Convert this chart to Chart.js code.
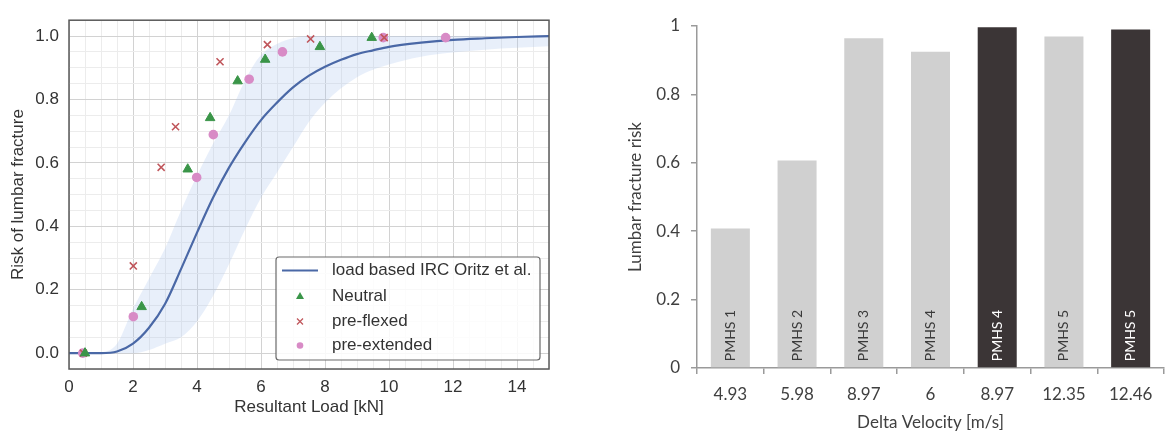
<!DOCTYPE html>
<html>
<head>
<meta charset="utf-8">
<script src="https://cdn.jsdelivr.net/npm/chart.js@4/dist/chart.umd.min.js"></script>
<style>
  html,body{margin:0;padding:0;background:#fff;width:1165px;height:435px;overflow:hidden;}
  #wl{position:absolute;left:0;top:0;width:575px;height:435px;}
  #wr{position:absolute;left:575px;top:0;width:590px;height:435px;}
</style>
</head>
<body>
<div id="wl"><canvas id="cl" width="575" height="435"></canvas></div>
<div id="wr"><canvas id="cr" width="590" height="435"></canvas></div>
<script>
// ---------- Left chart data ----------
const curveX = [0,0.5,1,1.5,2,2.5,3,3.5,4,4.5,5,5.5,6,6.5,7,7.5,8,8.5,9,9.5,10,11,12,13,14,15];
const curveY = [0,0,0,0.005,0.03,0.08,0.155,0.265,0.38,0.49,0.585,0.665,0.735,0.79,0.838,0.875,0.903,0.925,0.943,0.955,0.966,0.979,0.988,0.993,0.997,1.0];
const bandX     = [0,0.5,1,1.5,2,2.5,3,3.5,4,4.5,5,5.5,6,6.5,7,7.5,8,9,10,11,12,13,14,15];
const bandUpper = [0,0,0.003,0.03,0.14,0.235,0.33,0.45,0.56,0.66,0.75,0.86,0.94,0.975,0.993,1.0,1.0,1.0,1.0,1.0,1.0,1.0,1.0,1.0];
const bandLower = [0,0,0,0,0,0.01,0.03,0.05,0.1,0.18,0.28,0.39,0.49,0.57,0.65,0.73,0.79,0.87,0.91,0.935,0.948,0.957,0.963,0.968];
const neutralX = [0.5,2.27,3.71,4.41,5.27,6.13,7.84,9.46];
const neutralY = [0,0.146,0.58,0.742,0.858,0.926,0.966,0.995];
const flexedX  = [0.45,2.01,2.88,3.33,4.72,6.2,7.55,9.85];
const flexedY  = [0,0.275,0.586,0.714,0.919,0.973,0.991,0.995];
const extendedX = [0.43,2.01,3.99,4.51,5.63,6.67,9.82,11.77];
const extendedY = [0,0.115,0.554,0.689,0.864,0.95,0.995,0.995];
const leftLabels = ['load based IRC Oritz et al.','Neutral','pre-flexed','pre-extended'];

// ---------- Right chart data ----------
const velocityLabels = ['4.93','5.98','8.97','6','8.97','12.35','12.46'];
const fractureRisk   = [0.408,0.607,0.964,0.925,0.996,0.969,0.99];
const specimenNames  = ['PMHS 1','PMHS 2','PMHS 3','PMHS 4','PMHS 4','PMHS 5','PMHS 5'];
const barGroup       = ['A','A','A','A','B','A','B'];

const zip = (xs, ys) => xs.map((x, i) => ({x, y: ys[i]}));

const SANS = '"Liberation Sans", Arial, sans-serif';
const CAL = 'Lato, "Open Sans", sans-serif';
const GREEN = '#3a9548', RED = '#c0575c', PINK = '#d88bc6', BLUE = '#4a68a6';

function isMult(v, s){ return Math.abs(Math.round(v/s)*s - v) < 1e-6; }

const frameLegend = {
  id: 'frameLegend',
  afterDraw(chart){
    const c = chart.ctx, a = chart.chartArea;
    c.save();
    c.strokeStyle = '#5a5a5a'; c.lineWidth = 1.5;
    c.strokeRect(a.left, a.top, a.right - a.left, a.bottom - a.top);
    const x0 = a.right - 273, y0 = a.bottom - 112, w = 264, h = 103;
    c.fillStyle = 'rgba(255,255,255,0.85)';
    c.strokeStyle = '#6a6a6a'; c.lineWidth = 1.2;
    c.beginPath();
    if (c.roundRect) c.roundRect(x0, y0, w, h, 3); else c.rect(x0, y0, w, h);
    c.fill(); c.stroke();
    const rows = [y0 + 13.5, y0 + 39, y0 + 64.5, y0 + 88.5];
    const mx = x0 + 24, tx = x0 + 56;
    c.strokeStyle = BLUE; c.lineWidth = 2;
    c.beginPath(); c.moveTo(x0 + 6, rows[0]); c.lineTo(x0 + 42, rows[0]); c.stroke();
    c.fillStyle = GREEN;
    c.beginPath(); c.moveTo(mx, rows[1]-4); c.lineTo(mx+4, rows[1]+3); c.lineTo(mx-4, rows[1]+3); c.closePath(); c.fill();
    c.strokeStyle = RED; c.lineWidth = 1.3;
    c.beginPath(); c.moveTo(mx-3, rows[2]-3); c.lineTo(mx+3, rows[2]+3); c.moveTo(mx+3, rows[2]-3); c.lineTo(mx-3, rows[2]+3); c.stroke();
    c.fillStyle = PINK;
    c.beginPath(); c.arc(mx, rows[3], 3.3, 0, Math.PI*2); c.fill();
    c.fillStyle = '#333'; c.font = '17px ' + SANS; c.textBaseline = 'middle'; c.textAlign = 'left';
    leftLabels.forEach((t, i) => c.fillText(t, tx, rows[i]));
    c.restore();
  }
};

new Chart(document.getElementById('cl'), {
  type: 'scatter',
  data: {
    datasets: [
      {label: leftLabels[1], data: zip(neutralX, neutralY), pointStyle: 'triangle', pointRadius: 5.5, backgroundColor: GREEN, borderColor: GREEN, borderWidth: 1},
      {label: leftLabels[2], data: zip(flexedX, flexedY), pointStyle: 'crossRot', pointRadius: 5, borderColor: RED, backgroundColor: RED, borderWidth: 1.6},
      {label: leftLabels[3], data: zip(extendedX, extendedY), pointStyle: 'circle', pointRadius: 4.8, backgroundColor: PINK, borderColor: PINK, borderWidth: 0},
      {label: leftLabels[0], type: 'line', data: zip(curveX, curveY), borderColor: BLUE, borderWidth: 2.2, pointRadius: 0, fill: false, cubicInterpolationMode: 'monotone'},
      {label: 'upper', type: 'line', data: zip(bandX, bandUpper), borderWidth: 0, borderColor: 'rgba(0,0,0,0)', pointRadius: 0, backgroundColor: 'rgba(170,195,235,0.27)', fill: '+1', cubicInterpolationMode: 'monotone'},
      {label: 'lower', type: 'line', data: zip(bandX, bandLower), borderWidth: 0, borderColor: 'rgba(0,0,0,0)', pointRadius: 0, fill: false, cubicInterpolationMode: 'monotone'}
    ]
  },
  options: {
    responsive: false, animation: false,
    layout: {padding: {left: 0, right: 26, top: 10, bottom: 0}},
    plugins: {legend: {display: false}, tooltip: {enabled: false}},
    scales: {
      x: {
        type: 'linear', min: 0, max: 15,
        ticks: {stepSize: 0.5, autoSkip: false, maxRotation: 0, color: '#333', font: {size: 17, family: SANS}, padding: 8,
          callback: v => isMult(v, 2) ? String(Math.round(v)) : ''},
        grid: {color: c => isMult(c.tick.value, 2) ? '#d2d2d2' : '#ececec', drawTicks: false, lineWidth: 1},
        border: {display: false},
        title: {display: true, text: 'Resultant Load [kN]', color: '#333', font: {size: 17, family: SANS}, padding: {top: 0, bottom: 17}},
        afterFit: s => { s.height = 66; }
      },
      y: {
        min: -0.05, max: 1.05,
        ticks: {stepSize: 0.05, autoSkip: false, color: '#333', font: {size: 17, family: SANS}, padding: 10,
          callback: v => isMult(v, 0.2) ? (Math.round(v*10)/10).toFixed(1) : ''},
        grid: {color: c => isMult(c.tick.value, 0.2) ? '#d2d2d2' : '#ececec', drawTicks: false, lineWidth: 1},
        border: {display: false},
        title: {display: true, text: 'Risk of lumbar fracture', color: '#333', font: {size: 17, family: SANS}, padding: {top: 8, bottom: 0}},
        afterFit: s => { s.width = 69; }
      }
    }
  },
  plugins: [frameLegend]
});

// ---------- Right chart ----------
const groupColor = {A: '#d0d0d0', B: '#3b3536'};
const groupText  = {A: '#3a3a3a', B: '#ffffff'};

const barNames = {
  id: 'barNames',
  afterDatasetsDraw(chart){
    const c = chart.ctx;
    const meta = chart.getDatasetMeta(0);
    c.save();
    c.font = '14px ' + CAL;
    c.textAlign = 'left'; c.textBaseline = 'middle';
    meta.data.forEach((bar, i) => {
      c.save();
      c.translate(bar.x, bar.base - 6);
      c.rotate(-Math.PI/2);
      c.fillStyle = groupText[barGroup[i]];
      c.fillText(specimenNames[i], 0, 0);
      c.restore();
    });
    c.restore();
  }
};

new Chart(document.getElementById('cr'), {
  type: 'bar',
  data: {
    labels: velocityLabels,
    datasets: [{
      data: fractureRisk,
      backgroundColor: barGroup.map(g => groupColor[g]),
      borderWidth: 0,
      categoryPercentage: 1, barPercentage: 0.585
    }]
  },
  options: {
    responsive: false, animation: false,
    layout: {padding: {left: 0, right: 1, top: 26, bottom: 0}},
    plugins: {legend: {display: false}, tooltip: {enabled: false}},
    scales: {
      x: {
        ticks: {color: '#404040', font: {size: 17, family: CAL}, padding: 10, maxRotation: 0},
        grid: {offset: true, drawOnChartArea: false, tickLength: 6, color: '#9a9a9a', lineWidth: 1.5},
        border: {color: '#9a9a9a', width: 1.5},
        title: {display: true, text: 'Delta Velocity [m/s]', color: '#404040', font: {size: 17, family: CAL}, padding: {top: 0, bottom: 2}},
        afterFit: s => { s.height = 67; }
      },
      y: {
        min: 0, max: 1,
        ticks: {stepSize: 0.2, color: '#404040', font: {size: 17, family: CAL}, padding: 11,
          callback: v => String(Math.round(v*10)/10)},
        grid: {drawOnChartArea: false, tickLength: 6, color: '#9a9a9a', lineWidth: 1.5},
        border: {color: '#9a9a9a', width: 1.5},
        title: {display: true, text: 'Lumbar fracture risk', color: '#404040', font: {size: 17, family: CAL}, padding: {top: 50, bottom: 0}},
        afterFit: s => { s.width = 122; }
      }
    }
  },
  plugins: [barNames]
});
</script>
</body>
</html>
